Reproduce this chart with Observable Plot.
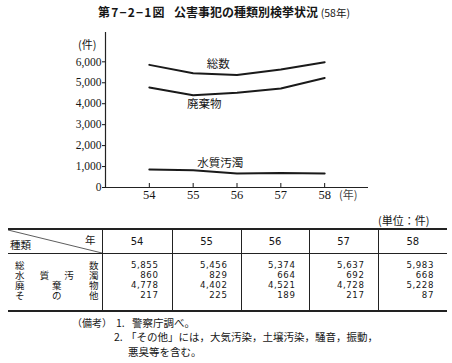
<!DOCTYPE html>
<html><head><meta charset="utf-8">
<script src="https://cdn.jsdelivr.net/npm/d3@7"></script>
<script src="https://cdn.jsdelivr.net/npm/@observablehq/plot@0.6"></script>
<style>
body{margin:0;background:#fff;width:452px;height:363px;overflow:hidden;position:relative;font-family:"Noto Sans CJK JP",sans-serif;color:#161616}
.abs{position:absolute;white-space:nowrap;line-height:1}
#title{top:6px;left:98px;font-size:12px;font-weight:bold}
#title .num{letter-spacing:1.2px}
#title .sub{font-weight:normal;font-size:10.5px}
#chart{position:absolute;top:22px;left:0}
#unitY{top:39px;left:78px;font-size:11px}
#unitX{top:189px;left:339px;font-size:11px;color:#444}
#unitT{top:215px;left:378px;font-size:11px}
#tbl{position:absolute;top:228px;left:8px;width:439px;border-collapse:collapse;table-layout:fixed;border-top:2px solid #222;border-bottom:2px solid #222}
#tbl td{padding:0;vertical-align:top}
#tbl tr.h td{height:23px;border-bottom:1px solid #222;border-left:1px solid #222;text-align:center;vertical-align:middle;font-family:"DejaVu Sans";font-size:10px}
#tbl tr.h td:first-child{border-left:none;position:relative}
#tbl tr.b td{border-left:1px solid #222;padding:6px 13px 10px 0;text-align:right;font-family:"DejaVu Sans";font-size:8.6px;letter-spacing:0.6px;line-height:10px}
#tbl tr.b td:first-child{border-left:none;padding:6px 3px 10px 7px;letter-spacing:0}
.nv{height:10px;line-height:10px}
.rl{display:flex;justify-content:space-between;height:10px}
.rl span{display:inline-block;height:10px;line-height:10px;font-family:"Noto Sans CJK JP";font-size:9.5px;overflow:visible}
.note{font-size:10.5px}
</style></head><body>
<div id="title" class="abs"><span class="num">第7−2−1図</span>&nbsp;&nbsp;&nbsp;公害事犯の種類別検挙状況 <span class="sub">(58年)</span></div>
<div id="chart"></div>
<div id="unitY" class="abs">(件)</div>
<div id="unitX" class="abs">(年)</div>
<div id="unitT" class="abs">(単位：件)</div>
<table id="tbl"><colgroup><col style="width:94px"><col style="width:70px"><col style="width:69px"><col style="width:68px"><col style="width:69px"><col style="width:69px"></colgroup><tbody id="tb"></tbody></table>
<div class="abs note" style="top:318px;left:72px;font-size:10px">（備考）</div>
<div class="abs note" style="top:318px;left:116px">1.</div>
<div class="abs note" style="top:318px;left:132px">警察庁調べ。</div>
<div class="abs note" style="top:332px;left:114px">2.</div>
<div class="abs note" style="top:332px;left:126px">「その他」には，大気汚染，土壌汚染，騒音，振動，</div>
<div class="abs note" style="top:347px;left:128px">悪臭等を含む。</div>
<script>
const years = [54, 55, 56, 57, 58];
const seriesNames = ["総数", "水質汚濁", "廃棄物", "その他"];
const total = [5855, 5456, 5374, 5637, 5983];
const water = [860, 829, 664, 692, 668];
const waste = [4778, 4402, 4521, 4728, 5228];
const other = [217, 225, 189, 217, 87];
const yTicks = [0, 1000, 2000, 3000, 4000, 5000, 6000];
const plotted = ["総数", "廃棄物", "水質汚濁"];
const labelDx = [25, 11, 27];
const labelDy = [-9, 9, -7];

const valuesBy = {"総数": total, "水質汚濁": water, "廃棄物": waste, "その他": other};
const rows = plotted.flatMap(s => years.map((y, i) => ({series: s, year: y, value: valuesBy[s][i]})));
const labels = plotted.map((s, k) => ({series: s, year: years[1], value: valuesBy[s][1], dx: labelDx[k], dy: labelDy[k]}));

const xDomain = [years[0] - 1, years[years.length - 1] + 1];
const yDomain = [0, 7400];

const plot = Plot.plot({
  width: 452, height: 185,
  marginLeft: 105, marginRight: 84, marginTop: 10, marginBottom: 20,
  x: {domain: xDomain, label: null},
  y: {domain: yDomain, label: null},
  style: {fontFamily: "Liberation Serif", fontSize: "11px", color: "#161616", background: "transparent"},
  marks: [
    Plot.ruleY([yDomain[0]], {stroke: "#222", strokeWidth: 1.2}),
    Plot.ruleX([xDomain[0]], {y1: yDomain[0], y2: yDomain[1], stroke: "#222", strokeWidth: 1.2}),
    Plot.axisY(yTicks, {tickSize: 3, tickPadding: 1, tickFormat: d3.format(","), fontSize: 11.5, label: null}),
    Plot.axisX(years, {tickSize: -4, tickPadding: 7, fontSize: 12.5, tickFormat: d => String(d), label: null}),
    Plot.line(rows, {x: "year", y: "value", z: "series", stroke: "#1a1a1a", strokeWidth: 2}),
    ...labels.map(l => Plot.text([l], {x: "year", y: "value", text: "series", dx: l.dx, dy: l.dy, fontFamily: "Noto Sans CJK JP", fontSize: 11.5, fill: "#1a1a1a"}))
  ]
});
document.getElementById("chart").appendChild(plot);

// table
const tb = document.getElementById("tb");
const h = document.createElement("tr"); h.className = "h";
const c0 = document.createElement("td");
c0.innerHTML = '<svg width="94" height="23" style="position:absolute;left:0;top:0"><line x1="0" y1="0" x2="94" y2="23" stroke="#333" stroke-width="0.8"/></svg>' +
  '<span style="position:absolute;right:6px;top:2px;font-family:Noto Sans CJK JP;font-size:10.5px">年</span>' +
  '<span style="position:absolute;left:2px;bottom:1px;font-family:Noto Sans CJK JP;font-size:10.5px">種類</span>';
h.appendChild(c0);
years.forEach(y => { const td = document.createElement("td"); td.textContent = y; h.appendChild(td); });
tb.appendChild(h);
const b = document.createElement("tr"); b.className = "b";
const lab = document.createElement("td");
lab.innerHTML = seriesNames.map(n => '<div class="rl">' + [...n].map(ch => '<span>' + ch + '</span>').join("") + '</div>').join("");
b.appendChild(lab);
const fmt = d3.format(",");
years.forEach((y, i) => {
  const td = document.createElement("td");
  td.innerHTML = seriesNames.map(n => '<div class="nv">' + fmt(valuesBy[n][i]) + '</div>').join("");
  b.appendChild(td);
});
tb.appendChild(b);
</script>
</body></html>
